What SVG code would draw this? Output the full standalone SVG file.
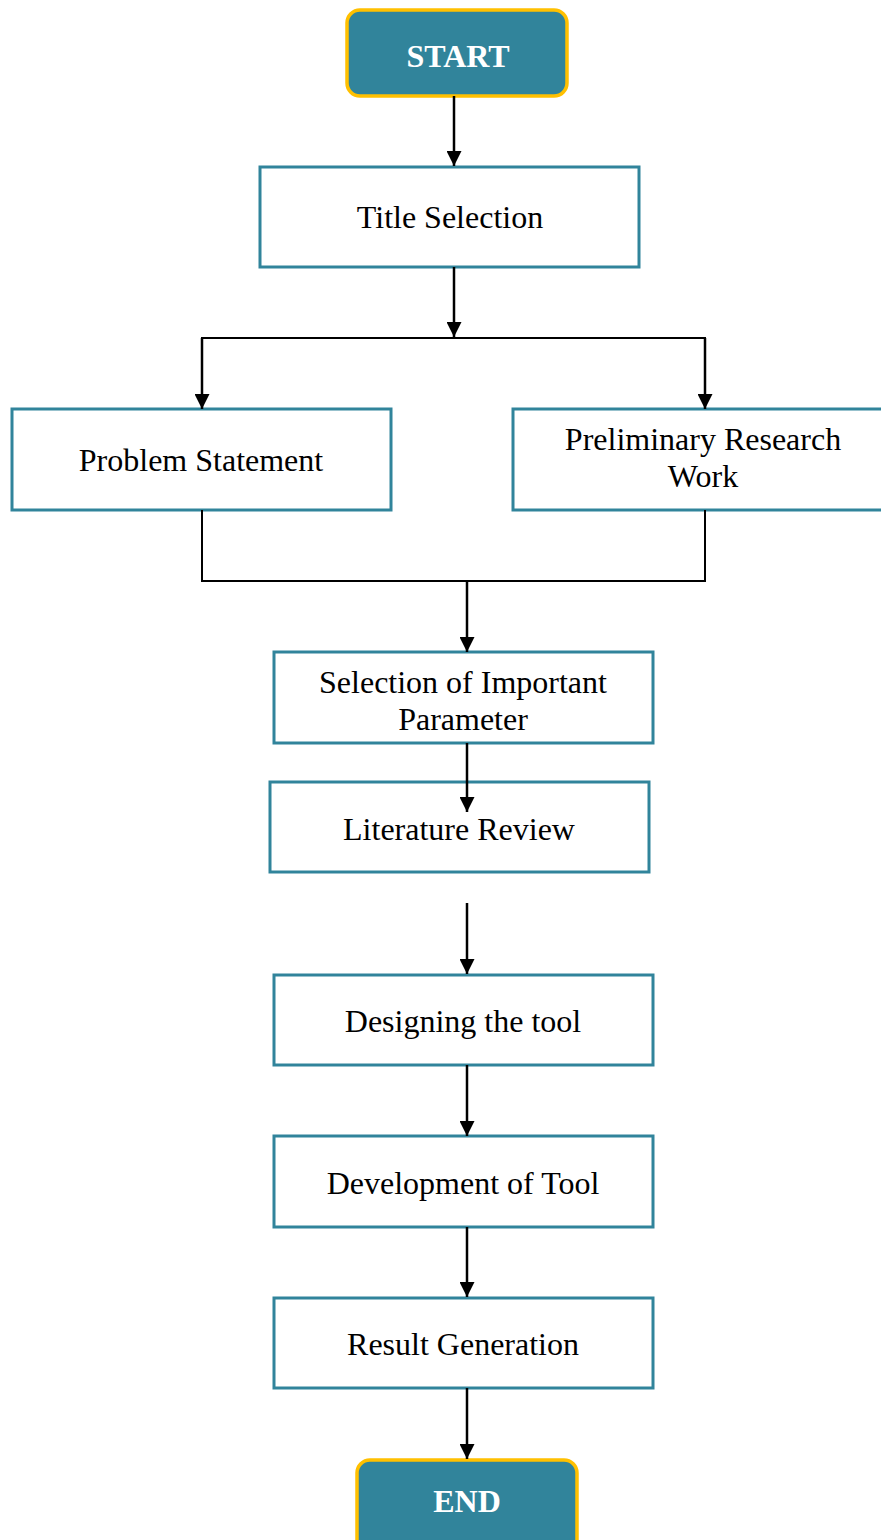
<svg xmlns="http://www.w3.org/2000/svg" width="881" height="1540" viewBox="0 0 881 1540">
<defs>
<style>
.box{fill:#fff;stroke:#31849B;stroke-width:3}
.term{fill:#31849B;stroke:#FFC000;stroke-width:3.5}
.t{font-family:"Liberation Serif","Times New Roman",serif;font-size:32px;fill:#000;text-anchor:middle}
.tb{font-family:"Liberation Serif","Times New Roman",serif;font-size:32px;font-weight:bold;fill:#fff;text-anchor:middle}
.c{fill:none;stroke:#000;stroke-width:2}
.a{fill:none;stroke:#000;stroke-width:2.5}
</style>
<marker id="arr" viewBox="0 0 12 12" refX="12" refY="6" markerWidth="15" markerHeight="15" markerUnits="userSpaceOnUse" orient="auto">
<path d="M0,0 L12,6 L0,12 z" fill="#000"/>
</marker>
</defs>
<g id="start">
<rect class="term" x="347" y="10" width="220" height="86" rx="13"/>
<text class="tb" x="458" y="67">START</text>
</g>
<g id="title-selection">
<rect class="box" x="260" y="167" width="379" height="100"/>
<text class="t" x="450" y="228">Title Selection</text>
</g>
<g id="problem-statement">
<rect class="box" x="12" y="409" width="379" height="101"/>
<text class="t" x="201" y="471">Problem Statement</text>
</g>
<g id="preliminary-research">
<rect class="box" x="513" y="409" width="380" height="101"/>
<text class="t" x="703" y="450">Preliminary Research</text>
<text class="t" x="703" y="487">Work</text>
</g>
<g id="selection-parameter">
<rect class="box" x="274" y="652" width="379" height="91"/>
<text class="t" x="463" y="693">Selection of Important</text>
<text class="t" x="463" y="730">Parameter</text>
</g>
<g id="literature-review">
<rect class="box" x="270" y="782" width="379" height="90"/>
<text class="t" x="459" y="840">Literature Review</text>
</g>
<g id="designing">
<rect class="box" x="274" y="975" width="379" height="90"/>
<text class="t" x="463" y="1032">Designing the tool</text>
</g>
<g id="development">
<rect class="box" x="274" y="1136" width="379" height="91"/>
<text class="t" x="463" y="1194">Development of Tool</text>
</g>
<g id="result">
<rect class="box" x="274" y="1298" width="379" height="90"/>
<text class="t" x="463" y="1355">Result Generation</text>
</g>
<g id="end">
<rect class="term" x="357" y="1460" width="220" height="100" rx="13"/>
<text class="tb" x="467" y="1512">END</text>
</g>
<g id="connectors">
<line class="a" x1="454" y1="96" x2="454" y2="166" marker-end="url(#arr)"/>
<line class="a" x1="454" y1="267" x2="454" y2="337" marker-end="url(#arr)"/>
<polyline class="c" points="202,345 202,338 705,338 705,345"/>
<line class="a" x1="202" y1="338" x2="202" y2="409" marker-end="url(#arr)"/>
<line class="a" x1="705" y1="338" x2="705" y2="409" marker-end="url(#arr)"/>
<polyline class="c" points="202,510 202,581 705,581 705,510"/>
<line class="a" x1="467" y1="581" x2="467" y2="652" marker-end="url(#arr)"/>
<line class="a" x1="467" y1="743" x2="467" y2="812" marker-end="url(#arr)"/>
<line class="a" x1="467" y1="903" x2="467" y2="974" marker-end="url(#arr)"/>
<line class="a" x1="467" y1="1065" x2="467" y2="1136" marker-end="url(#arr)"/>
<line class="a" x1="467" y1="1227" x2="467" y2="1297" marker-end="url(#arr)"/>
<line class="a" x1="467" y1="1388" x2="467" y2="1459" marker-end="url(#arr)"/>
</g>
</svg>
